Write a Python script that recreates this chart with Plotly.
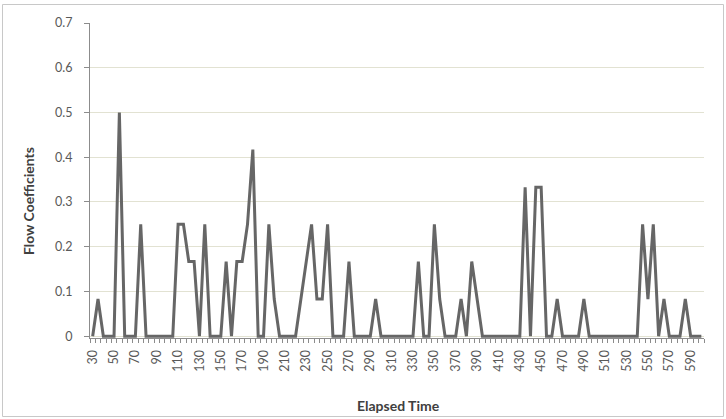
import plotly.graph_objects as go

# Elapsed time categories (seconds)
elapsed_time = [30, 35, 40, 45, 50, 55, 60, 65, 70, 75, 80, 85, 90, 95, 100, 105, 110, 115, 120, 125,
                130, 135, 140, 145, 150, 155, 160, 165, 170, 175, 180, 185, 190, 195, 200, 205, 210, 215, 220, 225,
                230, 235, 240, 245, 250, 255, 260, 265, 270, 275, 280, 285, 290, 295, 300, 305, 310, 315, 320, 325,
                330, 335, 340, 345, 350, 355, 360, 365, 370, 375, 380, 385, 390, 395, 400, 405, 410, 415, 420, 425,
                430, 435, 440, 445, 450, 455, 460, 465, 470, 475, 480, 485, 490, 495, 500, 505, 510, 515, 520, 525,
                530, 535, 540, 545, 550, 555, 560, 565, 570, 575, 580, 585, 590, 595, 600]

# Flow coefficients
flow_coefficients = [0, 0.083, 0, 0, 0, 0.5, 0, 0, 0, 0.25, 0, 0, 0, 0, 0, 0, 0.25, 0.25, 0.167, 0.167,
                     0, 0.25, 0, 0, 0, 0.167, 0, 0.167, 0.167, 0.25, 0.417, 0, 0, 0.25, 0.083, 0, 0, 0, 0, 0.083,
                     0.167, 0.25, 0.083, 0.083, 0.25, 0, 0, 0, 0.167, 0, 0, 0, 0, 0.083, 0, 0, 0, 0, 0, 0,
                     0, 0.167, 0, 0, 0.25, 0.083, 0, 0, 0, 0.083, 0, 0.167, 0.083, 0, 0, 0, 0, 0, 0, 0,
                     0, 0.333, 0, 0.333, 0.333, 0, 0, 0.083, 0, 0, 0, 0, 0.083, 0, 0, 0, 0, 0, 0, 0,
                     0, 0, 0, 0.25, 0.083, 0.25, 0, 0.083, 0, 0, 0, 0.083, 0, 0, 0]

y_title = "Flow Coefficients"
x_title = "Elapsed Time"

W, H = 726, 419
L, R, T, B = 90, 22, 23, 81
pw, ph = W - L - R, H - T - B

def px_to_paper_x(px):
    return (px - L) / pw

def px_to_paper_y(py):
    return (H - B - py) / ph

FONT = "Lato, 'Liberation Sans', sans-serif"
AXIS_COLOR = "#8c8c8c"
GRID_COLOR = "#e2e2d2"
TEXT_COLOR = "#595959"

fig = go.Figure()
fig.add_trace(go.Scatter(
    x=elapsed_time, y=flow_coefficients, mode="lines",
    line=dict(color="#666666", width=3), showlegend=False,
))

fig.update_layout(
    width=W, height=H,
    margin=dict(l=L, r=R, t=T, b=B),
    paper_bgcolor="white", plot_bgcolor="white",
    font=dict(family=FONT, size=12, color=TEXT_COLOR),
    xaxis=dict(
        range=[27.5, 602.5], tick0=30, dtick=20, tickangle=-90,
        ticks="", showgrid=False, zeroline=False,
        showline=True, linecolor=AXIS_COLOR, linewidth=1,
        tickfont=dict(size=12.5, color=TEXT_COLOR),
        ticklabelstandoff=6,
        minor=dict(tick0=27.5, dtick=5, ticks="outside", ticklen=4,
                   tickcolor=AXIS_COLOR, showgrid=False),
    ),
    yaxis=dict(
        range=[-0.004, 0.7], tick0=0, dtick=0.1,
        ticks="outside", ticklen=5, tickcolor=AXIS_COLOR,
        showgrid=True, gridcolor=GRID_COLOR, gridwidth=1, zeroline=False,
        showline=True, linecolor=AXIS_COLOR, linewidth=1,
        tickfont=dict(size=12.5, color=TEXT_COLOR),
        ticklabelstandoff=9,
    ),
    annotations=[
        dict(text="<b>" + y_title + "</b>", xref="paper", yref="paper",
             x=px_to_paper_x(28), y=px_to_paper_y(201), textangle=-90,
             showarrow=False, font=dict(size=14, color="#404040", family=FONT),
             xanchor="center", yanchor="middle"),
        dict(text="<b>" + x_title + "</b>", xref="paper", yref="paper",
             x=px_to_paper_x(398), y=px_to_paper_y(405),
             showarrow=False, font=dict(size=14, color="#404040", family=FONT),
             xanchor="center", yanchor="middle"),
    ],
    shapes=[
        dict(type="rect", xref="paper", yref="paper",
             x0=px_to_paper_x(2.5), x1=px_to_paper_x(723.5),
             y0=px_to_paper_y(416.5), y1=px_to_paper_y(4.5),
             line=dict(color="#c8c8c8", width=1), fillcolor="rgba(0,0,0,0)", layer="below"),
    ],
)

fig.write_html("out.html")
